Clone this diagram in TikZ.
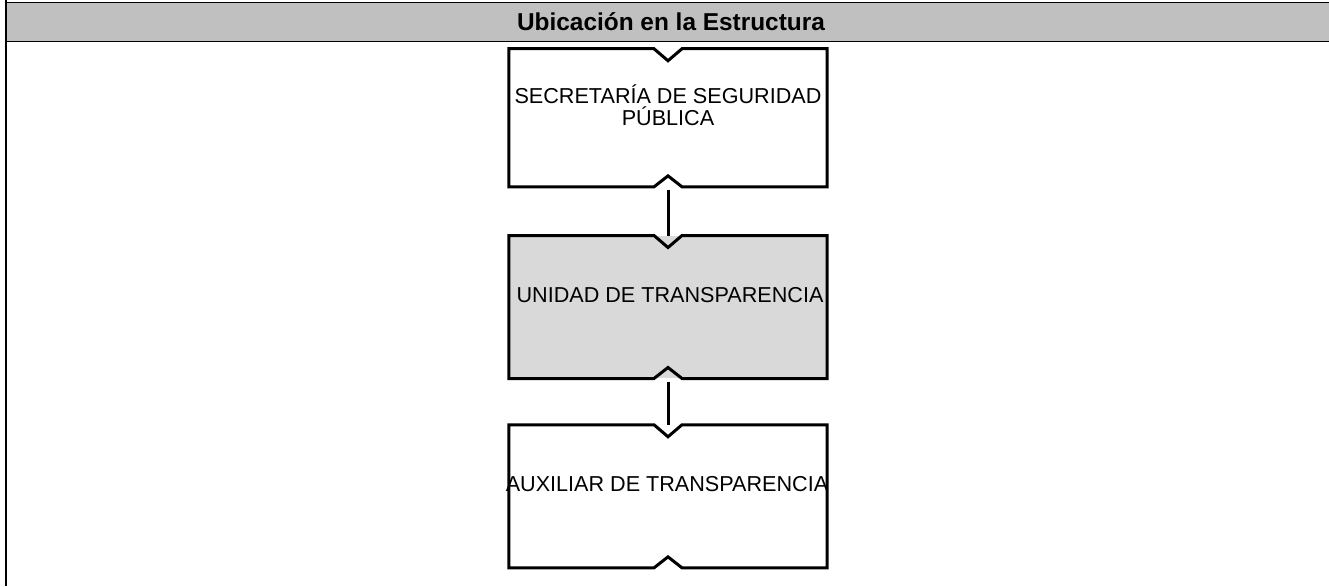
\documentclass[tikz,border=0pt]{standalone}
\usepackage{fontspec}
\setmainfont{Liberation Sans}
\definecolor{hdrgray}{HTML}{C0C0C0}
\definecolor{unitgray}{HTML}{D9D9D9}
\begin{document}
\begin{tikzpicture}[x=1pt,y=-1pt,
  unitbox/.style={rectangle, inner sep=0pt, minimum width=318pt},
  boxline/.style={line width=3pt, line join=miter},
  boxtext/.style={font=\fontsize{21.6}{22}\selectfont, align=center, inner sep=0pt, anchor=base},
  conn/.style={line width=3pt},
  hdrline/.style={line width=1.5pt}]
\useasboundingbox (0,0) rectangle (1329,586);
% header band
\fill[hdrgray] (6,2.5) rectangle (1329,41.5);
\draw[hdrline] (6,2.5) -- (1329,2.5);
\draw[hdrline] (6,41.5) -- (1329,41.5);
\draw[line width=2pt] (6,0) -- (6,586);
\node[font=\bfseries\fontsize{24.4}{25}\selectfont, inner sep=0pt, anchor=base] (hdr) at (671,31) {Ubicación en la Estructura};
% boxes
\node[unitbox, minimum height=137.7pt] (s1) at (668,117.8) {};
\node[unitbox, minimum height=142.6pt, fill=unitgray] (s2) at (668,307) {};
\node[unitbox, minimum height=142.7pt] (s3) at (668,496.3) {};
\foreach \b in {s1,s2,s3}{
  \draw[boxline] (\b.north west) -- ([xshift=-14pt]\b.north) -- ([yshift=-12pt]\b.north) -- ([xshift=14pt]\b.north) -- (\b.north east)
    -- (\b.south east) -- ([xshift=14pt]\b.south) -- ([yshift=11pt]\b.south) -- ([xshift=-14pt]\b.south) -- (\b.south west) -- cycle;
}
\node[boxtext] (t1) at (668,125.2) {SECRETARÍA DE SEGURIDAD\\PÚBLICA};
\node[boxtext] (t2) at (670,302.6) {UNIDAD DE TRANSPARENCIA};
\node[boxtext] (t3) at (667,491) {AUXILIAR DE TRANSPARENCIA};
% connectors
\coordinate (c1) at ([yshift=-3pt]s1.south);
\coordinate (c2) at ([yshift=-3pt]s2.south);
\draw[conn] (c1) -- (s2.north);
\draw[conn] (c2) -- (s3.north);
\end{tikzpicture}
\end{document}
